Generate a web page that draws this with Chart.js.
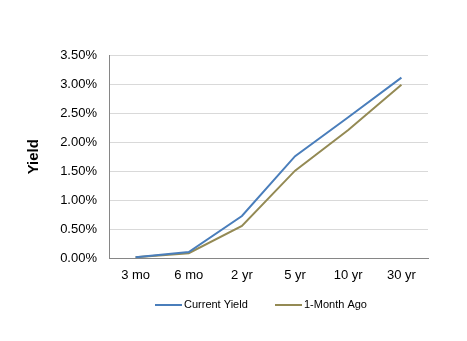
<!DOCTYPE html>
<html><head><meta charset="utf-8">
<script src="https://cdn.jsdelivr.net/npm/chart.js@4"></script>
<style>html,body{margin:0;padding:0;background:#fff}#w{width:467px;height:341px}</style>
</head><body><div id="w"><canvas id="c" width="467" height="341"></canvas></div>
<script>
const categories = ["3 mo","6 mo","2 yr","5 yr","10 yr","30 yr"];
const currentYield = [0.02, 0.11, 0.73, 1.76, 2.43, 3.11];
const monthAgo = [0.02, 0.09, 0.56, 1.51, 2.21, 2.99];
const seriesNames = ["Current Yield","1-Month Ago"];
const seriesColors = ["#4A7EBB","#948A54"];

const legendPlugin = {
  id: 'customLegend',
  afterDraw(chart) {
    const ctx = chart.ctx;
    ctx.save();
    ctx.font = '11px "Liberation Sans", Arial, sans-serif';
    ctx.textBaseline = 'middle';
    const y = 305;
    const starts = [155, 275];
    chart.data.datasets.forEach((ds, i) => {
      const x = starts[i];
      ctx.strokeStyle = ds.borderColor;
      ctx.lineWidth = 2;
      ctx.beginPath(); ctx.moveTo(x, y); ctx.lineTo(x + 27, y); ctx.stroke();
      ctx.fillStyle = '#000';
      ctx.fillText(ds.label, x + 29, y);
    });
    ctx.restore();
  }
};

new Chart(document.getElementById('c'), {
  type: 'line',
  data: {
    labels: categories,
    datasets: [
      {label: seriesNames[0], data: currentYield, borderColor: seriesColors[0], backgroundColor: seriesColors[0], borderWidth: 2, pointRadius: 0, tension: 0},
      {label: seriesNames[1], data: monthAgo, borderColor: seriesColors[1], backgroundColor: seriesColors[1], borderWidth: 2, pointRadius: 0, tension: 0}
    ]
  },
  options: {
    responsive: false,
    animation: false,
    layout: {padding: {left: 25, right: 39, top: 55, bottom: 49}},
    plugins: {legend: {display: false}, tooltip: {enabled: false}},
    scales: {
      x: {
        offset: true,
        grid: {display: false, drawTicks: false},
        border: {color: '#868686', width: 1},
        ticks: {color: '#000', padding: 9, font: {family: '"Liberation Sans", Arial, sans-serif', size: 13}, maxRotation: 0}
      },
      y: {
        min: 0, max: 3.5,
        afterFit(s) { s.width = 84; },
        grid: {color: '#D9D9D9', drawTicks: false},
        border: {color: '#868686', width: 1},
        title: {display: true, text: 'Yield', color: '#000', font: {family: '"Liberation Sans", Arial, sans-serif', size: 15, weight: 'bold'}, padding: 0},
        ticks: {stepSize: 0.5, color: '#000', padding: 12, font: {family: '"Liberation Sans", Arial, sans-serif', size: 13},
          callback: v => v.toFixed(2) + '%'}
      }
    }
  },
  plugins: [legendPlugin]
});
</script></body></html>
